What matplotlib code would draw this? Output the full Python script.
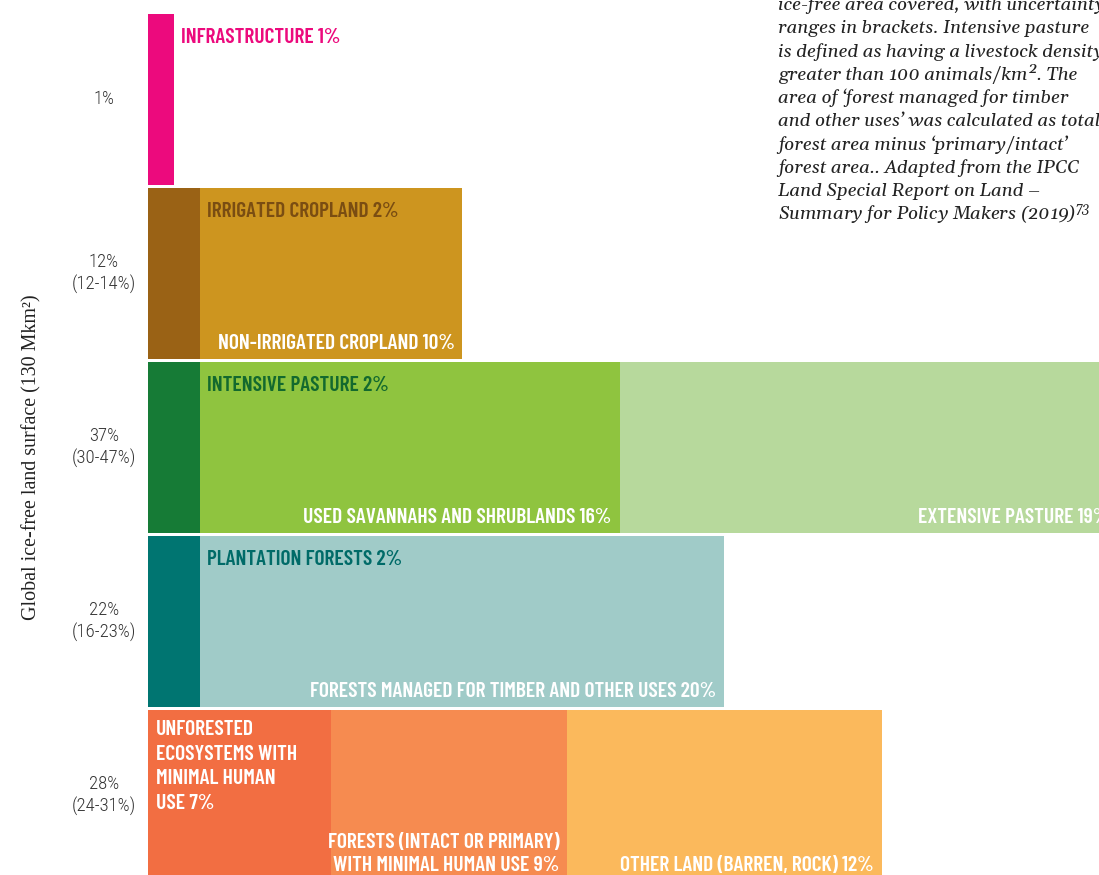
import numpy as np
import matplotlib.pyplot as plt

plt.rcParams['mathtext.fontset'] = 'custom'
plt.rcParams['mathtext.rm'] = 'Gelasio:italic'
plt.rcParams['mathtext.it'] = 'Gelasio:italic'

# share of global ice-free land (%) by use, one row per group
row_labels = ['1%', '12%\n(12-14%)', '37%\n(30-47%)', '22%\n(16-23%)', '28%\n(24-31%)']

infrastructure = [1]
cropland = [2, 10]
pasture = [2, 16, 19]
forest = [2, 20]
low_use = [7, 9, 12]

infrastructure_names = ['INFRASTRUCTURE']
cropland_names = ['IRRIGATED CROPLAND', 'NON-IRRIGATED CROPLAND']
pasture_names = ['INTENSIVE PASTURE', 'USED SAVANNAHS AND SHRUBLANDS', 'EXTENSIVE PASTURE']
forest_names = ['PLANTATION FORESTS', 'FORESTS MANAGED FOR TIMBER AND OTHER USES']
low_use_names = ['UNFORESTED\nECOSYSTEMS WITH\nMINIMAL HUMAN\nUSE', 'FORESTS (INTACT OR PRIMARY)\nWITH MINIMAL HUMAN USE',
                 'OTHER LAND (BARREN, ROCK)']

rows = [infrastructure, cropland, pasture, forest, low_use]
names = [infrastructure_names, cropland_names, pasture_names, forest_names, low_use_names]
colors = [['#ec0a7d'],
          ['#9a6215', '#cd951f'],
          ['#167b36', '#8fc43f', '#b7d99c'],
          ['#007571', '#a0cbc8'],
          ['#f26e42', '#f68b50', '#fbb95c']]

# where each segment's label goes (after the segment / top-left inside / bottom-right) and its colour
label_style = [[('after', '#ec0a7d')],
               [('after', '#7a4d12'), ('br', 'white')],
               [('after', '#13692e'), ('br', 'white'), ('br', 'white')],
               [('after', '#006b68'), ('br', 'white')],
               [('tl', 'white'), ('br', 'white'), ('br', 'white')]]

W, H = 1099, 875
fig = plt.figure(figsize=(W / 100, H / 100), dpi=100)

x0 = 148
px_per_pct = 26.2
ax = fig.add_axes([x0 / W, 0, (W - x0) / W, 1])
ax.set_xlim(0, (W - x0) / px_per_pct)
pitch = 174.0
ax.set_ylim((H - 99.5) / pitch, -99.5 / pitch)
ax.axis('off')

cond = ['Barlow Condensed', 'DejaVu Sans']
bar_h = 171 / pitch

for i, (vals, nm, cl, st) in enumerate(zip(rows, names, colors, label_style)):
    lefts = np.concatenate([[0], np.cumsum(vals)[:-1]])
    ax.barh(i, vals, left=lefts, height=bar_h, color=cl, linewidth=0)
    top = i - bar_h / 2
    bot = i + bar_h / 2
    for v, l, n, (where, tc) in zip(vals, lefts, nm, st):
        txt = f'{n} {v}%'
        kw = dict(textcoords='offset pixels', color=tc, family=cond, fontweight='semibold',
                  fontsize=15.5, annotation_clip=False)
        if where == 'after':
            ax.annotate(txt, (l + v, top), xytext=(7, -29), ha='left', va='baseline', **kw)
        elif where == 'tl':
            ax.annotate(txt, (l, top), xytext=(8, -10), ha='left', va='top',
                        linespacing=1.38, **kw)
        else:
            ax.annotate(txt, (l + v, bot), xytext=(-8, 6), ha='right', va='bottom',
                        multialignment='right', linespacing=1.28, **kw)

# group totals left of the bars
for i, lab in enumerate(row_labels):
    fig.text(104 / W, 1 - (99.5 + i * pitch) / H, lab, ha='center', va='center',
             family=['Roboto Condensed', 'DejaVu Sans'], fontweight='light', fontsize=13.5,
             color='#333333', linespacing=1.2)

fig.text(32 / W, 1 - 457 / H, 'Global ice-free land surface (130 Mkm²)', rotation=90,
         ha='center', va='center', family='Liberation Serif', fontsize=14.4, color='#222222')

note = ['ice-free area covered, with uncertainty',
        'ranges in brackets. Intensive pasture',
        'is defined as having a livestock density',
        'greater than 100 animals/km². The',
        'area of ‘forest managed for timber',
        'and other uses’ was calculated as total',
        'forest area minus ‘primary/intact’',
        'forest area.. Adapted from the IPCC',
        'Land Special Report on Land –',
        'Summary for Policy Makers (2019)$^{73}$']
for k, line in enumerate(note):
    fig.text(778 / W, 1 - (10 + k * 23.3) / H, line, ha='left', va='baseline',
             family=['Gelasio', 'DejaVu Serif'], style='italic', fontweight='semibold',
             fontsize=13.5, color='#222222')

fig.savefig('out.png', dpi=100)
